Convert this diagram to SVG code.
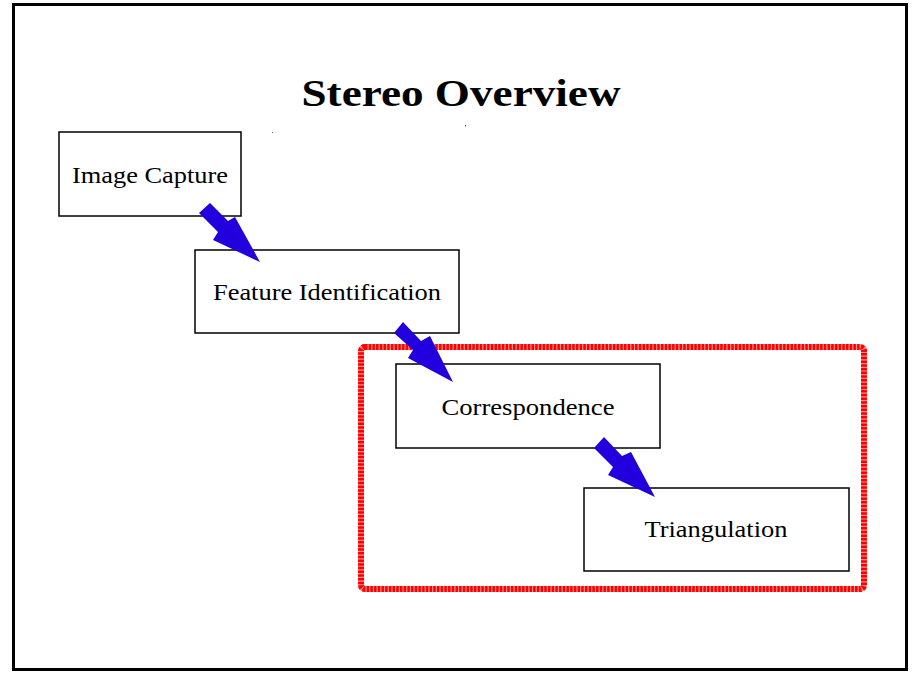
<svg xmlns="http://www.w3.org/2000/svg" width="912" height="673" viewBox="0 0 912 673">
<style>
.node rect{fill:#fff;stroke:#000;stroke-width:1.5}
.node text{font-family:"Liberation Serif",serif;font-size:24px;fill:#000;text-anchor:middle}
.arrow{fill:#2200dd}
</style>
<rect x="0" y="0" width="912" height="673" fill="#fff"/>
<rect x="13.5" y="4.5" width="893" height="665" fill="none" stroke="#000" stroke-width="3"/>
<text x="461" y="106" font-family="'Liberation Serif',serif" font-weight="bold" font-size="37" text-anchor="middle" textLength="319" lengthAdjust="spacingAndGlyphs">Stereo Overview</text>
<rect x="272" y="132" width="1" height="1" fill="#666"/>
<rect x="465" y="125" width="1" height="1.5" fill="#444"/>
<g id="group-box">
<rect x="361" y="347" width="503" height="242" rx="4" fill="none" stroke="#ff8c8c" stroke-width="6"/>
<rect x="361" y="347" width="503" height="242" rx="4" fill="none" stroke="#ff0000" stroke-width="6" stroke-dasharray="2.5 1.2"/>
</g>
<g id="image-capture" class="node"><rect x="59" y="132" width="182" height="84"/><text x="150" y="183" textLength="156" lengthAdjust="spacingAndGlyphs">Image Capture</text></g>
<g id="feature-identification" class="node"><rect x="195" y="250" width="264" height="83"/><text x="327" y="300" textLength="228" lengthAdjust="spacingAndGlyphs">Feature Identification</text></g>
<g id="correspondence" class="node"><rect x="396" y="364" width="264" height="84"/><text x="528" y="415" textLength="173" lengthAdjust="spacingAndGlyphs">Correspondence</text></g>
<g id="triangulation" class="node"><rect x="584" y="488" width="265" height="83"/><text x="716" y="537" textLength="143" lengthAdjust="spacingAndGlyphs">Triangulation</text></g>
<g id="connectors">
<polygon class="arrow" points="199,213 210,203 228,221 235,217 260,262 213,240 218,232"/>
<polygon class="arrow" points="394,333 403,322 421,341 430,336 453,382 408,358 413,350"/>
<polygon class="arrow" points="594,448 604,437 622,456 631,452 655,497 608,475 613,467"/>
</g>
</svg>
